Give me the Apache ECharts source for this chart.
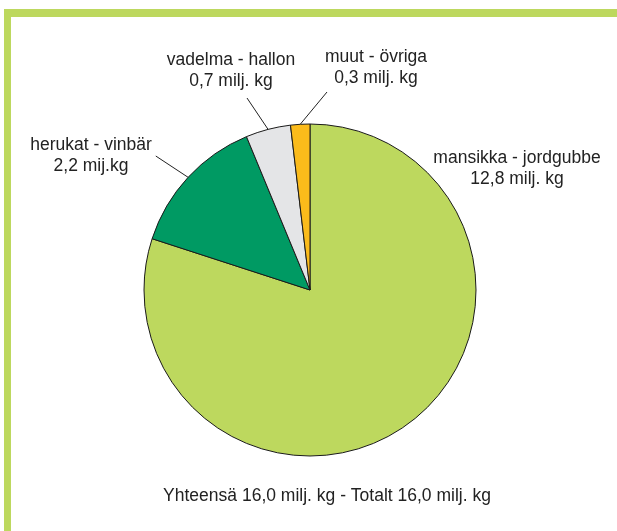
<!DOCTYPE html>
<html>
<head>
<meta charset="utf-8">
<script src="https://cdn.jsdelivr.net/npm/echarts@6/dist/echarts.min.js"></script>
<style>
  html, body { margin: 0; padding: 0; background: #fff; }
  #panel { width: 617px; height: 531px; }
</style>
</head>
<body>
<div id="panel"></div>
<script>
  // marjojen tuotanto, milj. kg
  const names = ["mansikka - jordgubbe", "herukat - vinbär", "vadelma - hallon", "muut - övriga"];
  const values = [12.8, 2.2, 0.7, 0.3];
  const valueLabels = ["12,8 milj. kg", "2,2 mij.kg", "0,7 milj. kg", "0,3 milj. kg"];
  const colors = ["#bdd85e", "#009a63", "#e4e5e7", "#fbbb1b"];
  const totalText = "Yhteensä 16,0 milj. kg - Totalt 16,0 milj. kg";

  // label box centres [x, y] and paddings (padding decides where the leader line meets the box)
  const labelPos = [[517, 169], [93, 156], [247, 71], [327, 68]];
  const labelPad = [[0, 0, 0, 0], [0, 4, 0, 0], [0, 32, 12, 0], [0, 0, 6, 98]];

  const font = '"Liberation Sans Narrow", "Arial Narrow", "Liberation Sans", Arial, sans-serif';

  let panel = echarts.init(document.getElementById("panel"));
  let option = {
    backgroundColor: "#fff",
    animation: false,
    title: {
      text: totalText,
      left: 322,
      top: 482,
      textAlign: "center",
      textStyle: {
        color: "#222",
        fontWeight: "normal",
        fontSize: 17.5,
        fontFamily: font
      }
    },
    graphic: [
      { type: "rect", shape: { x: 4, y: 9, width: 613, height: 8 }, style: { fill: "#bdd85e" } },
      { type: "rect", shape: { x: 4, y: 9, width: 7, height: 522 }, style: { fill: "#bdd85e" } }
    ],
    series: [{
      type: "pie",
      center: [310, 290],
      radius: 166,
      startAngle: 90,
      clockwise: true,
      itemStyle: {
        borderColor: "#1a1a1a",
        borderWidth: 1
      },
      label: {
        show: true,
        color: "#222",
        fontSize: 17.5,
        lineHeight: 21,
        fontFamily: font,
        align: "center",
        overflow: "none",
        formatter: p => p.name + "\n" + valueLabels[p.dataIndex]
      },
      labelLine: {
        show: true,
        length: 0,
        length2: 0,
        smooth: false,
        lineStyle: { color: "#222", width: 1 }
      },
      labelLayout: p => ({
        x: labelPos[p.dataIndex][0],
        y: labelPos[p.dataIndex][1],
        align: "center",
        verticalAlign: "middle"
      }),
      data: names.map((n, i) => ({
        name: n,
        value: values[i],
        itemStyle: { color: colors[i] },
        label: { padding: labelPad[i] },
        labelLine: { show: i !== 0 }
      }))
    }]
  };
  panel.setOption(option, true);
</script>
</body>
</html>
